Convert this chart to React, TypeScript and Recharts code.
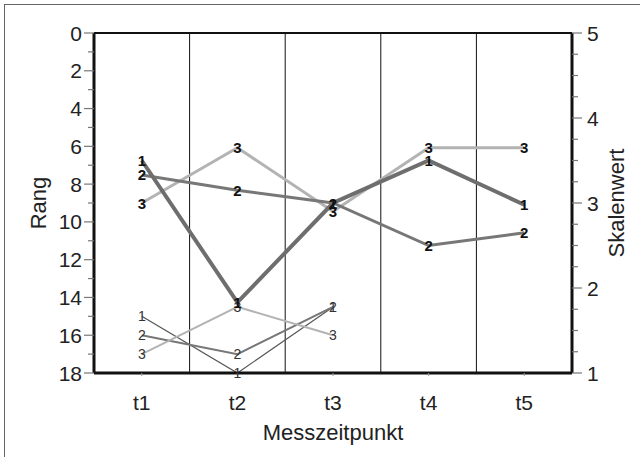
import React from "react";
import {
  ComposedChart,
  LabelList,
  Line,
  ReferenceLine,
  XAxis,
  YAxis,
} from "recharts";

// Messzeitpunkte
const zeitpunkte = ["t1", "t2", "t3", "t4", "t5"];

// fette Linien, rechte Achse (Skalenwert)
const skala1 = [3.5, 1.83, 3.0, 3.5, 2.98];
const skala2 = [3.33, 3.15, 3.0, 2.5, 2.65];
const skala3 = [3.0, 3.65, 2.9, 3.65, 3.65];

// dünne Linien, linke Achse (Rang), nur t1-t3
const rang1 = [15, 18, 14.5];
const rang2 = [16, 17, 14.5];
const rang3 = [17, 14.5, 16];

const rangTicks = [0, 1, 2, 3, 4, 5, 6, 7, 8, 9, 10, 11, 12, 13, 14, 15, 16, 17, 18];
const skalaTicks = [1, 1.25, 1.5, 1.75, 2, 2.25, 2.5, 2.75, 3, 3.25, 3.5, 3.75, 4, 4.25, 4.5, 4.75, 5];
// Trennlinien jeweils am Ende dieser Zeitpunkte
const trennlinien = ["t1", "t2", "t3", "t4"];

const data = zeitpunkte.map((name, i) => ({
  name,
  s1: skala1[i],
  s2: skala2[i],
  s3: skala3[i],
  r1: rang1[i],
  r2: rang2[i],
  r3: rang3[i],
}));

const font = "'Liberation Sans', Arial, sans-serif";

const RangTick = (p: any) => {
  const v = p.payload.value;
  const major = v % 2 === 0;
  return (
    <g>
      <line x1={p.x - (major ? 10 : 6)} x2={p.x} y1={p.y} y2={p.y} stroke="#777" strokeWidth={1.2} />
      {major && (
        <text x={p.x - 12} y={p.y} textAnchor="end" dominantBaseline="central" fontSize={21} fill="#222" fontFamily={font}>
          {v}
        </text>
      )}
    </g>
  );
};

const SkalaTick = (p: any) => {
  const v = p.payload.value;
  const major = Number.isInteger(v);
  return (
    <g>
      <line x1={p.x} x2={p.x + (major ? 10 : 6)} y1={p.y} y2={p.y} stroke="#777" strokeWidth={1.2} />
      {major && (
        <text x={p.x + 15} y={p.y} textAnchor="start" dominantBaseline="central" fontSize={21} fill="#222" fontFamily={font}>
          {v}
        </text>
      )}
    </g>
  );
};

const ZeitTick = (p: any) => (
  <g>
    <line x1={p.x} x2={p.x} y1={p.y} y2={p.y + 3} stroke="#999" strokeWidth={1} />
    <text x={p.x} y={p.y + 29} textAnchor="middle" dominantBaseline="central" fontSize={21} fill="#222" fontFamily={font}>
      {p.payload.value}
    </text>
  </g>
);

const punktLabel = (nr: string, bold: boolean) => (props: any) => {
  if (props.value == null || props.x == null || props.y == null) return null;
  return (
    <text
      x={props.x}
      y={props.y}
      textAnchor="middle"
      dominantBaseline="central"
      fontSize={bold ? 15 : 14}
      fontWeight={bold ? "bold" : "normal"}
      fill={bold ? "#111" : "#333"}
      fontFamily={font}
    >
      {nr}
    </text>
  );
};

export default function App() {
  return (
    <div style={{ position: "absolute", left: 0, top: 0, width: 640, height: 457, background: "#fff", overflow: "hidden" }}>
      <div
        style={{
          position: "absolute",
          left: 4,
          top: 4,
          width: 700,
          height: 500,
          borderLeft: "1.5px solid #666",
          borderTop: "1.5px solid #666",
        }}
      />
      <ComposedChart
        width={640}
        height={457}
        data={data}
        margin={{ top: 33, right: 0, bottom: 0, left: 0 }}
        style={{ position: "absolute", left: 0, top: 0 }}
      >
        <XAxis
          dataKey="name"
          scale="band"
          height={84}
          tickSize={0}
          tickMargin={0}
          tick={<ZeitTick />}
          axisLine={{ stroke: "#111", strokeWidth: 3 }}
          interval={0}
          label={{
            content: (p: any) => (
              <text
                x={p.viewBox.x + p.viewBox.width / 2}
                y={p.viewBox.y + 59}
                textAnchor="middle"
                dominantBaseline="central"
                fontSize={22}
                fill="#222"
                fontFamily={font}
              >
                Messzeitpunkt
              </text>
            ),
          }}
        />
        <YAxis
          yAxisId="left"
          width={94}
          domain={[0, 18]}
          reversed
          ticks={rangTicks}
          interval={0}
          tickSize={0}
          tickMargin={0}
          tick={<RangTick />}
          axisLine={{ stroke: "#111", strokeWidth: 3 }}
          label={{
            content: (p: any) => (
              <text
                x={p.viewBox.x + 38}
                y={p.viewBox.y + p.viewBox.height / 2}
                textAnchor="middle"
                dominantBaseline="central"
                fontSize={22}
                fill="#222"
                fontFamily={font}
                transform={`rotate(-90 ${p.viewBox.x + 38} ${p.viewBox.y + p.viewBox.height / 2})`}
              >
                Rang
              </text>
            ),
          }}
        />
        <YAxis
          yAxisId="right"
          orientation="right"
          width={68}
          domain={[1, 5]}
          ticks={skalaTicks}
          interval={0}
          tickSize={0}
          tickMargin={0}
          tick={<SkalaTick />}
          axisLine={{ stroke: "#111", strokeWidth: 3 }}
          label={{
            content: (p: any) => (
              <text
                x={p.viewBox.x + 44}
                y={p.viewBox.y + p.viewBox.height / 2}
                textAnchor="middle"
                dominantBaseline="central"
                fontSize={22}
                fill="#222"
                fontFamily={font}
                transform={`rotate(-90 ${p.viewBox.x + 44} ${p.viewBox.y + p.viewBox.height / 2})`}
              >
                Skalenwert
              </text>
            ),
          }}
        />
        {trennlinien.map((t) => (
          <ReferenceLine key={t} x={t} position="end" yAxisId="left" stroke="#111" strokeWidth={1} />
        ))}
        <ReferenceLine y={5} yAxisId="right" stroke="#111" strokeWidth={2} />

        <Line yAxisId="left" dataKey="r1" stroke="#555" strokeWidth={1.2} dot={false} activeDot={false} isAnimationActive={false}>
          <LabelList dataKey="r1" content={punktLabel("1", false)} />
        </Line>
        <Line yAxisId="left" dataKey="r2" stroke="#777" strokeWidth={2} dot={false} activeDot={false} isAnimationActive={false}>
          <LabelList dataKey="r2" content={punktLabel("2", false)} />
        </Line>
        <Line yAxisId="left" dataKey="r3" stroke="#b3b3b3" strokeWidth={2} dot={false} activeDot={false} isAnimationActive={false}>
          <LabelList dataKey="r3" content={punktLabel("3", false)} />
        </Line>

        <Line yAxisId="right" dataKey="s3" stroke="#b3b3b3" strokeWidth={3} dot={false} activeDot={false} isAnimationActive={false}>
          <LabelList dataKey="s3" content={punktLabel("3", true)} />
        </Line>
        <Line yAxisId="right" dataKey="s2" stroke="#777" strokeWidth={3} dot={false} activeDot={false} isAnimationActive={false}>
          <LabelList dataKey="s2" content={punktLabel("2", true)} />
        </Line>
        <Line yAxisId="right" dataKey="s1" stroke="#6e6e6e" strokeWidth={4} dot={false} activeDot={false} isAnimationActive={false}>
          <LabelList dataKey="s1" content={punktLabel("1", true)} />
        </Line>
      </ComposedChart>
    </div>
  );
}
